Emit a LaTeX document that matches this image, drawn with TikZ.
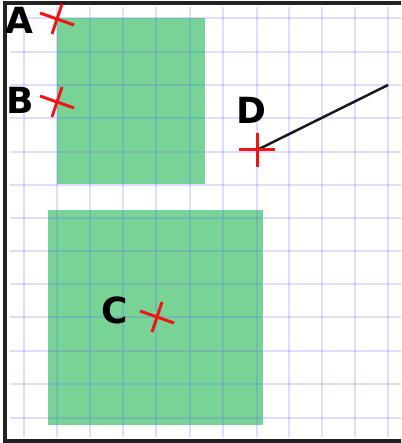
\documentclass[tikz,border=0pt]{standalone}
\usepackage{fontspec}
\setmainfont{DejaVu Sans}
\definecolor{areagreen}{RGB}{120,212,150}
\definecolor{gridblue}{RGB}{100,100,255}
\definecolor{crossred}{RGB}{240,20,20}
\definecolor{framegray}{RGB}{34,34,34}
\begin{document}
\begin{tikzpicture}[x=1pt,y=-1pt,
  area/.style={fill=areagreen,draw=none},
  gridline/.style={draw=gridblue,opacity=0.22,line width=1.4pt},
  crossarm/.style={draw=crossred,line width=3pt},
  lbl/.style={font=\bfseries\fontsize{36}{36}\selectfont,inner sep=0pt,anchor=center},
  pt/.style={inner sep=0pt,minimum size=0pt}]
\useasboundingbox (0,0) rectangle (401,443);
\begin{scope}
\clip (0,0) rectangle (401,443);
% green areas
\fill[area] (57,18) rectangle (205,184);
\fill[area] (48,210) rectangle (263,425);
% grid
\foreach \x in {24,57,90,123,156,190,223,257,289,322,355,388}
  \draw[gridline] (\x,7) -- (\x,437);
\foreach \y in {18,52,85,118,152,185,218,251,284,317,351,384,418}
  \draw[gridline] (10,\y) -- (401,\y);
% frame
\draw[framegray,line width=3.2pt] (5,3) rectangle (410,441);
\end{scope}
% points
\node[pt] (a) at (57,19) {};
\node[pt] (b) at (57,102) {};
\node[pt] (c) at (157,317) {};
\node[pt] (d) at (257,150) {};
\coordinate (e) at (388,85);
% line from D
\draw[black!90,line width=2.5pt] (d.center) -- (e);
% crosses
\foreach \p in {a,b,c}
  \draw[crossarm] ([shift={(-17,-6)}]\p.center) -- ([shift={(17,6)}]\p.center)
                  ([shift={(5,-15)}]\p.center) -- ([shift={(-5,15)}]\p.center);
\draw[crossarm] ([shift={(-18,0)}]d.center) -- ([shift={(18,0)}]d.center)
                ([shift={(0,-17)}]d.center) -- ([shift={(0,17)}]d.center);
% labels
\node[lbl] (la) at (19.5,20.5) {A};
\node[lbl] (lb) at (20.5,100.5) {B};
\node[lbl] (lc) at (115,310) {C};
\node[lbl] (ld) at (251,110) {D};
\end{tikzpicture}
\end{document}
